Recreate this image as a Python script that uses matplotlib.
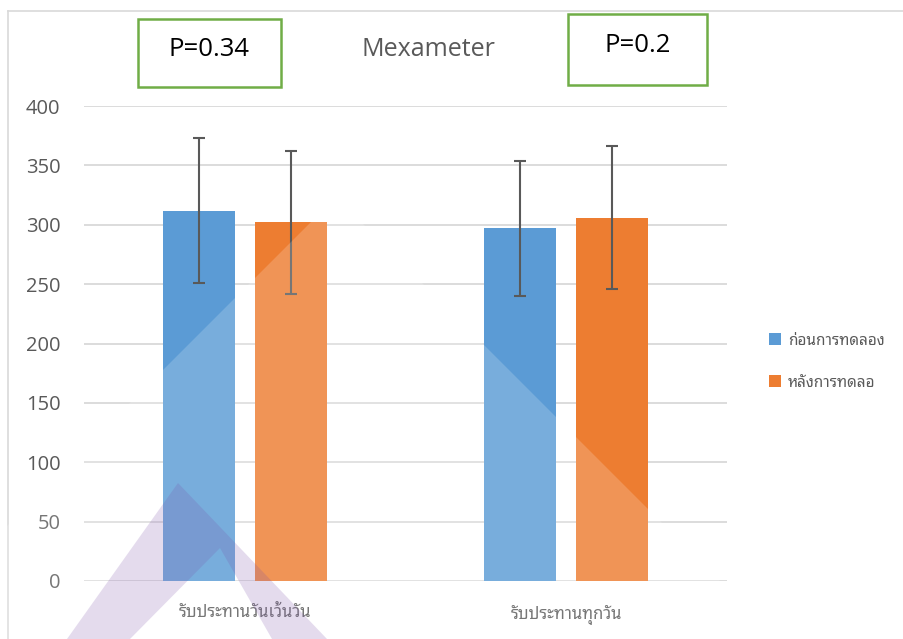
import matplotlib
matplotlib.use('Agg')
import matplotlib.pyplot as plt
import numpy as np
from matplotlib.patches import Rectangle, Polygon, Patch
from matplotlib.lines import Line2D

plt.rcParams['font.family'] = ['Open Sans', 'Noto Sans Thai Looped', 'DejaVu Sans']

# data
groups = ['รับประทานวันเว้นวัน', 'รับประทานทุกวัน']
series = ['ก่อนการทดลอง', 'หลังการทดลอ']
before = [312, 297]
before_err = [61, 57]
after = [302, 306]
after_err = [60, 60]
p_values = ['P=0.34', 'P=0.2']
yticks = [0, 50, 100, 150, 200, 250, 300, 350, 400]

blue = '#5B9BD5'
orange = '#ED7D31'
grey_txt = '#595959'
W, H = 904, 639

def fx(px):
    return px / W

def fy(py):
    return 1 - py / H

fig = plt.figure(figsize=(W / 100, H / 100), dpi=100)
ax = fig.add_axes([fx(84), fy(581), fx(727) - fx(84), fy(106) - fy(581)])

x = np.arange(len(groups))
bw = 0.224
off = 0.143
ax.bar(x - off, before, bw, color=blue, zorder=2)
ax.bar(x + off, after, bw, color=orange, zorder=2)
ax.errorbar(x - off, before, yerr=before_err, fmt='none', ecolor=grey_txt,
            elinewidth=1.5, capsize=4.5, capthick=1.5, zorder=3)
ax.errorbar(x + off, after, yerr=after_err, fmt='none', ecolor=grey_txt,
            elinewidth=1.5, capsize=4.5, capthick=1.5, zorder=3)

ax.set_xlim(-0.5, 1.5)
ax.set_ylim(0, 400)
ax.set_yticks(yticks)
ax.set_xticks(x)
ax.set_xticklabels(groups, fontsize=12, color=grey_txt)
ax.tick_params(axis='y', length=0, pad=17, labelsize=14.5, labelcolor=grey_txt)
ax.tick_params(axis='x', length=0, pad=17)
ax.grid(axis='y', color='#D9D9D9', linewidth=1.3, zorder=0)
ax.set_axisbelow(True)
for s in ax.spines.values():
    s.set_visible(False)

# legend on the right
handles = [Patch(facecolor=blue), Patch(facecolor=orange)]
fig.legend(handles, series, loc='center left', bbox_to_anchor=(fx(761), fy(362)),
           frameon=False, fontsize=11, labelcolor=grey_txt, handlelength=0.8,
           handleheight=0.8, handletextpad=0.45, labelspacing=1.75, borderpad=0)

# title and p-value boxes
fig.text(fx(428), fy(49), 'Mexameter', ha='center', va='center', fontsize=18, color=grey_txt)
boxes = [(138, 19, 281, 87), (568, 14, 707, 85)]
for (x0, y0, x1, y1), p in zip(boxes, p_values):
    fig.add_artist(Rectangle((fx(x0), fy(y1)), fx(x1) - fx(x0), fy(y0) - fy(y1),
                             transform=fig.transFigure, fill=False,
                             edgecolor='#70AD47', linewidth=1.8))
    fig.text(fx((x0 + x1) / 2), fy(y0 + 31), p, ha='center', va='center',
             fontsize=18.5, color='black')

# chart frame
fig.add_artist(Line2D([fx(7.5), fx(7.5)], [fy(11), 0], transform=fig.transFigure,
                      color='#D9D9D9', linewidth=1.2))
fig.add_artist(Line2D([fx(7.5), 1], [fy(11), fy(11)], transform=fig.transFigure,
                      color='#D9D9D9', linewidth=1.2))

# watermark overlay from the source image
wash = [(336, 197), (790, 651), (-10, 651), (-10, 543)]
fig.add_artist(Polygon([(fx(a), fy(b)) for a, b in wash], closed=True,
                       transform=fig.transFigure, facecolor='white', alpha=0.18,
                       edgecolor='none', zorder=5))
band = [(67, 639), (178, 483), (327, 639), (272, 639), (220, 548), (130, 639)]
fig.add_artist(Polygon([(fx(a), fy(b)) for a, b in band], closed=True,
                       transform=fig.transFigure, facecolor='#7B4FA8', alpha=0.2,
                       edgecolor='none', zorder=6))

fig.savefig('out.png', dpi=100)
